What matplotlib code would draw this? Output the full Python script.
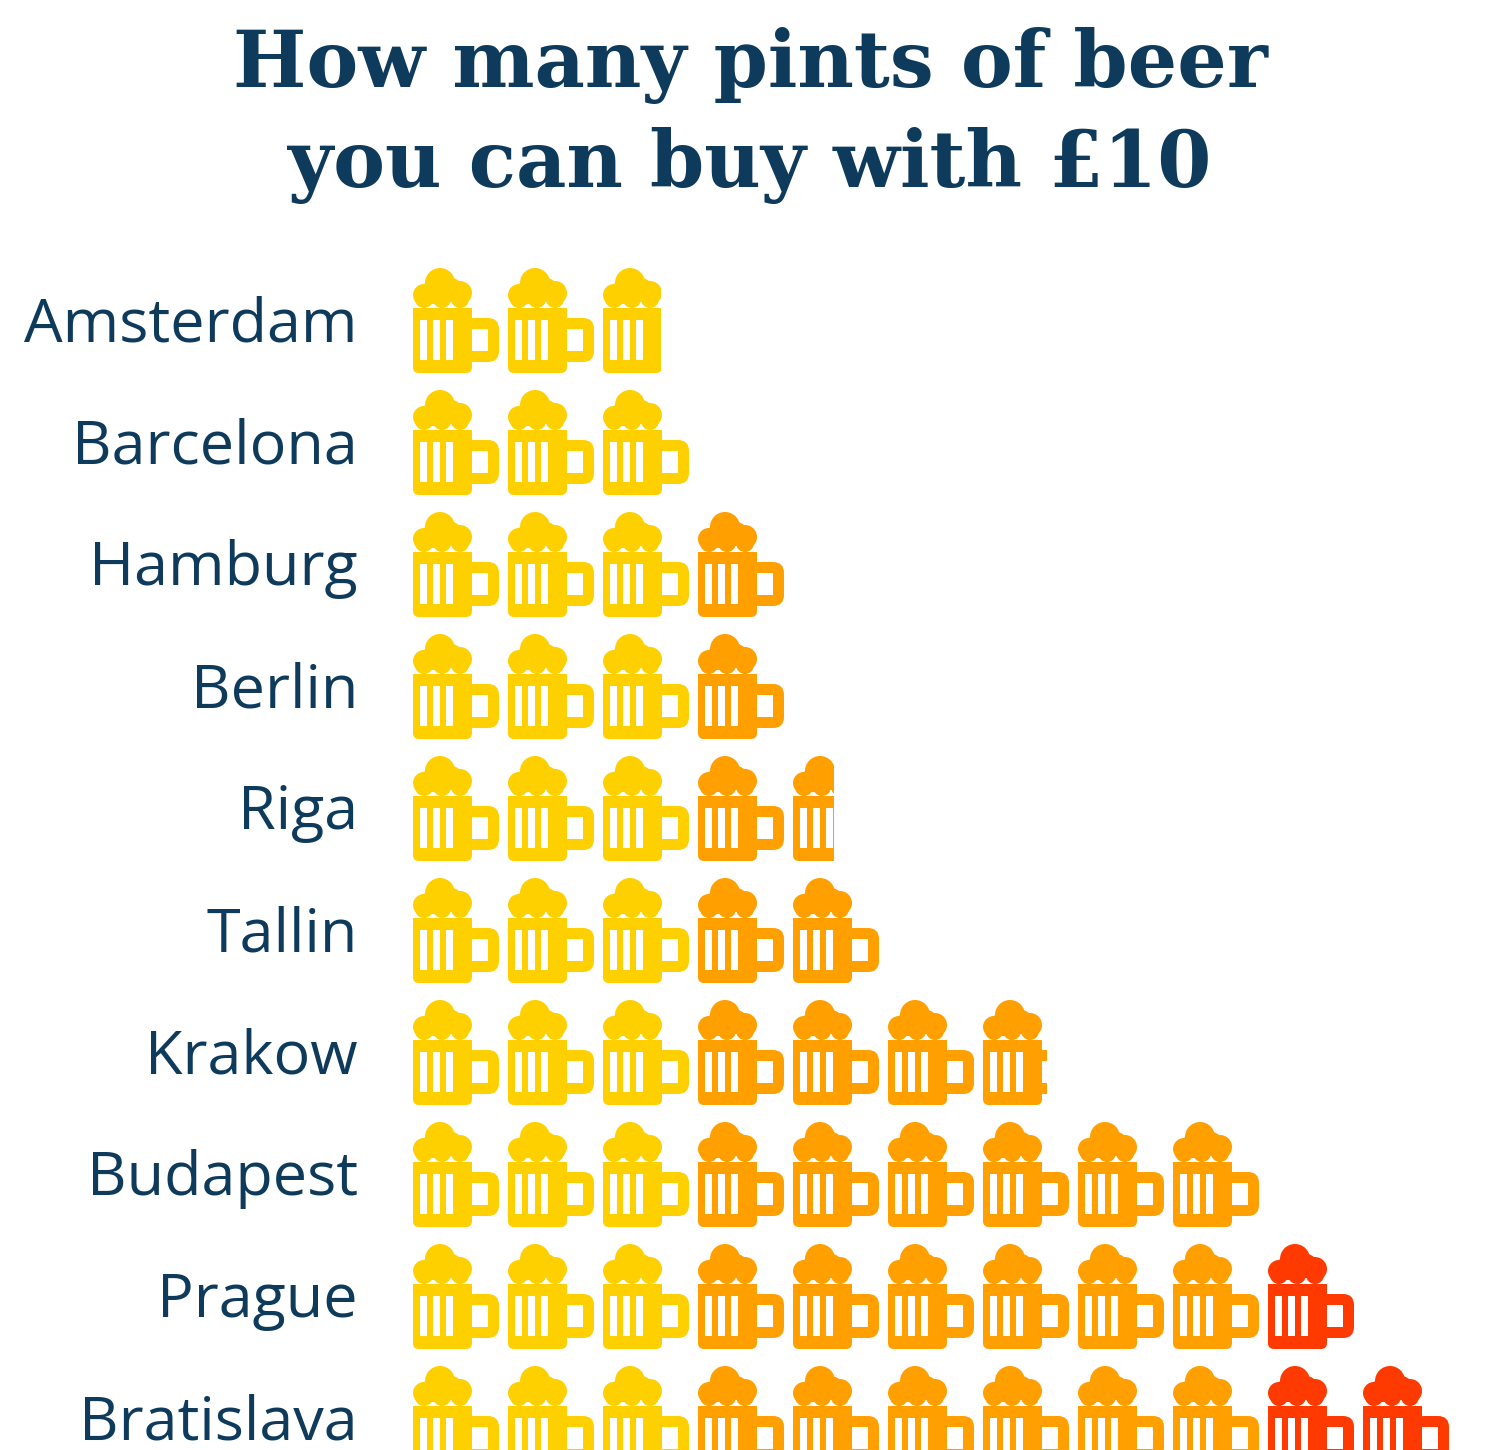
import matplotlib
matplotlib.use("Agg")
import matplotlib.pyplot as plt
from matplotlib.patches import FancyBboxPatch, Circle, Rectangle

cities = ["Amsterdam", "Barcelona", "Hamburg", "Berlin", "Riga", "Tallin",
          "Krakow", "Budapest", "Prague", "Bratislava"]
pints = [2.67, 3.0, 4.0, 4.0, 4.48, 5.0, 6.74, 9.0, 10.0, 11.0]
mug_colors = ["#FFD000"] * 3 + ["#FF9F00"] * 6 + ["#FF3A00"] * 2
navy = "#0E3A5B"

fig = plt.figure(figsize=(15, 14.5), dpi=100)
ax = fig.add_axes([0, 0, 1, 1])
ax.set_xlim(0, 1500)
ax.set_ylim(1450, 0)
ax.axis("off")

for yy, s in [(65, "How many pints of beer"), (165, "you can buy with £10")]:
    fig.text(0.5, 1 - yy / 1450, s, ha="center", va="center",
             fontsize=56, fontweight="bold", family="DejaVu Serif", color=navy)

X0, DX, Y0, DY, MW = 413, 95, 325, 122, 86


def draw_mug(x, y, color, frac):
    t = y - 62  # top of foam
    clip = Rectangle((x - 3, t - 5), frac * MW + 3, 125, transform=ax.transData)
    pats = []
    # body
    pats.append(FancyBboxPatch((x + 3, t + 38), 53, 64, boxstyle="round,pad=3,rounding_size=6",
                               fc=color, ec="none"))
    # handle
    pats.append(FancyBboxPatch((x + 50, t + 50), 36, 44, boxstyle="round,pad=0,rounding_size=11",
                               fc=color, ec="none"))
    # white separator under foam
    pats.append(Rectangle((x, t + 35), 59, 5, fc="white", ec="none"))
    # foam
    for cx, cy, r in [(x + 11, t + 27, 11), (x + 27, t + 15, 15), (x + 47, t + 25, 12),
                      (x + 20, t + 24, 12), (x + 38, t + 22, 12)]:
        pats.append(Circle((cx, cy), r, fc=color, ec="none"))
    for cx in (x + 11, x + 29, x + 47):
        pats.append(Circle((cx, t + 31), 9, fc=color, ec="none"))
    # white bars
    for bx in (x + 7, x + 20, x + 33):
        pats.append(Rectangle((bx, t + 52), 7, 40, fc="white", ec="none"))
    # handle hole
    pats.append(Rectangle((x + 59, t + 61), 16, 22, fc="white", ec="none"))
    for p in pats:
        ax.add_patch(p)
        p.set_clip_path(clip)


for r, (city, n) in enumerate(zip(cities, pints)):
    y = Y0 + r * DY
    ax.text(358, y, city, ha="right", va="center", fontsize=44, color=navy,
            family="Open Sans")
    full = int(n)
    rem = n - full
    for i in range(full + (1 if rem > 0.01 else 0)):
        frac = 1.0 if i < full else rem
        draw_mug(X0 + i * DX, y + 5, mug_colors[i], frac)

fig.savefig("out.png", dpi=100, facecolor="white")
